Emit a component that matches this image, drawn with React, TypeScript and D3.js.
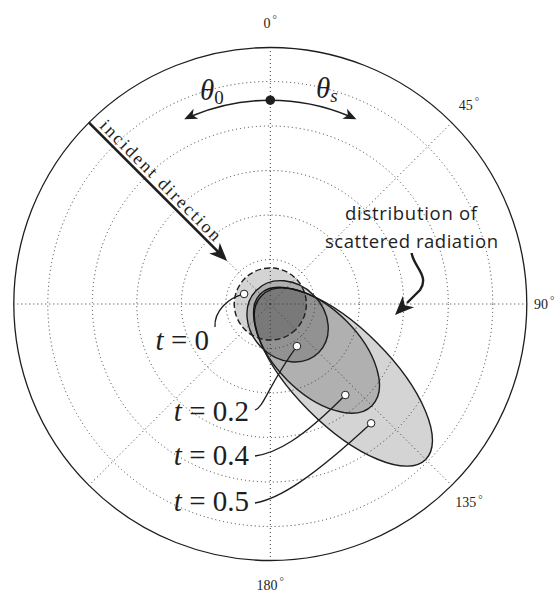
import React, { useEffect, useRef } from 'react';
import * as d3 from 'd3';

// values (radial unit = one grid ring)
const ringTicks = [1, 2, 3, 4, 5];
const rMax = 5.764;
const gridAngles = [0, 45, 90, 135, 180, 225, 270, 315];
const labelAngles = [0, 45, 90, 135, 180];

const tValues = [0.5, 0.4, 0.2, 0];
const shapeAxis = [135, 135, 135, 135];
const centreDist = [2.31, 1.48, 0.55, 0];
const semiMajor = [2.63, 1.75, 0.99, 0.81];
const semiMinor = [1.08, 0.94, 0.83, 0.81];
const dotAngle = [139.8, 140.5, 147.7, 291];
const dotRadius = [3.51, 2.65, 1.12, 0.63];

const incidentAngle = 315;
const incidentTip = 1.37;
const thetaArcRadius = 4.58;
const thetaArcSpan = 25;

const W = 558;
const H = 592;
const CX = 270.3;
const CY = 304;
const R = 256.5;
const INK = '#1e1e1e';

const serif = '"Liberation Serif", "DejaVu Serif", serif';
const sans = '"Open Sans", "Noto Sans", sans-serif';

// stealth-like arrow head, tip at (x, y), pointing along (dx, dy)
const head = (x, y, dx, dy, len, hw, svg) => {
  const n = Math.hypot(dx, dy);
  const ux = dx / n,
    uy = dy / n;
  const px = -uy,
    py = ux;
  const p = d3.path();
  p.moveTo(x, y);
  p.lineTo(x - len * ux + hw * px, y - len * uy + hw * py);
  p.lineTo(x - 0.72 * len * ux, y - 0.72 * len * uy);
  p.lineTo(x - len * ux - hw * px, y - len * uy - hw * py);
  p.closePath();
  svg.append('path').attr('d', p.toString()).attr('fill', INK);
};

const App = () => {
  const ref = useRef(null);

  useEffect(() => {
    if (!ref.current) return;
    const svg = d3.select(ref.current);
    svg.selectAll('*').remove();

    const r = d3.scaleLinear().domain([0, rMax]).range([0, R]);
    const rad = (a) => (a * Math.PI) / 180;
    const xy = (a, v) => [CX + r(v) * Math.sin(rad(a)), CY - r(v) * Math.cos(rad(a))];

    // scattered distributions
    tValues.forEach((t, i) => {
      const [ex, ey] = xy(shapeAxis[i], centreDist[i]);
      svg
        .append('ellipse')
        .attr('cx', ex)
        .attr('cy', ey)
        .attr('rx', r(semiMajor[i]))
        .attr('ry', r(semiMinor[i]))
        .attr('transform', `rotate(${shapeAxis[i] - 90},${ex},${ey})`)
        .attr('fill', 'black')
        .attr('fill-opacity', 0.17)
        .attr('stroke', INK)
        .attr('stroke-width', 1.4)
        .attr('stroke-dasharray', t === 0 ? '6,3' : null);
    });

    // grid
    const grid = svg.append('g').attr('fill', 'none').attr('stroke', '#3a3a3a').attr('stroke-width', 1).attr('stroke-dasharray', '1,3');
    ringTicks.forEach((v) => {
      grid.append('circle').attr('cx', CX).attr('cy', CY).attr('r', r(v));
    });
    gridAngles.forEach((a) => {
      const [x2, y2] = xy(a, rMax);
      grid.append('line').attr('x1', CX).attr('y1', CY).attr('x2', x2).attr('y2', y2);
    });
    svg.append('circle').attr('cx', CX).attr('cy', CY).attr('r', R).attr('fill', 'none').attr('stroke', INK).attr('stroke-width', 1.3);

    // angle labels (90 is pulled in a little so it stays on the page)
    labelAngles.forEach((a) => {
      const [x, y] = xy(a, r.invert(a === 90 ? 274 : 281));
      const txt = svg
        .append('text')
        .attr('x', x)
        .attr('y', y)
        .attr('text-anchor', 'middle')
        .attr('dominant-baseline', 'central')
        .attr('font-family', serif)
        .attr('font-size', 14)
        .attr('fill', INK)
        .text(String(a));
      txt.append('tspan').attr('dx', 2).attr('dy', -4).attr('font-size', 11).text('°');
    });

    // leader lines and markers
    const labelRight = [255, 255, 255, 215];
    const labelBase = [510.7, 465, 420.7, 350];
    const leaderStart = [
      [255, 503],
      [255, 456],
      [255, 410],
      [215, 327],
    ];
    const leaderCtrl = [
      [
        [279, 499],
        [312, 478],
      ],
      [
        [276, 453],
        [301, 440],
      ],
      [
        [264, 407],
        [268, 386],
      ],
      [
        [214, 311],
        [228, 298],
      ],
    ];
    tValues.forEach((t, i) => {
      const [dx, dy] = xy(dotAngle[i], dotRadius[i]);
      const p = d3.path();
      p.moveTo(leaderStart[i][0], leaderStart[i][1]);
      p.bezierCurveTo(leaderCtrl[i][0][0], leaderCtrl[i][0][1], leaderCtrl[i][1][0], leaderCtrl[i][1][1], dx, dy);
      svg.append('path').attr('d', p.toString()).attr('fill', 'none').attr('stroke', INK).attr('stroke-width', 1.3);
      svg.append('circle').attr('cx', dx).attr('cy', dy).attr('r', 3.8).attr('fill', 'white').attr('stroke', INK).attr('stroke-width', 1);

      const lab = svg
        .append('text')
        .attr('x', labelRight[i] - 6)
        .attr('y', labelBase[i])
        .attr('text-anchor', 'end')
        .attr('font-family', serif)
        .attr('font-size', 29)
        .attr('fill', INK);
      lab.append('tspan').attr('font-style', 'italic').text('t');
      lab.append('tspan').text(` = ${t}`);
    });

    // incident direction arrow
    const [ix0, iy0] = xy(incidentAngle, rMax);
    const [ix1, iy1] = xy(incidentAngle, incidentTip);
    const ux = (ix1 - ix0) / Math.hypot(ix1 - ix0, iy1 - iy0);
    const uy = (iy1 - iy0) / Math.hypot(ix1 - ix0, iy1 - iy0);
    svg
      .append('line')
      .attr('x1', ix0)
      .attr('y1', iy0)
      .attr('x2', ix1 - 12 * ux)
      .attr('y2', iy1 - 12 * uy)
      .attr('stroke', INK)
      .attr('stroke-width', 2.6);
    head(ix1, iy1, ux, uy, 18, 7.5, svg);
    const tx = ix0 + 10 * ux + 4 * uy;
    const ty = iy0 + 10 * uy - 4 * ux;
    svg
      .append('text')
      .attr('transform', `translate(${tx},${ty}) rotate(45)`)
      .attr('font-family', serif)
      .attr('font-size', 18)
      .attr('textLength', 163)
      .attr('fill', INK)
      .text('incident direction');

    // theta arc
    const arcR = r(thetaArcRadius);
    const ap = d3.path();
    ap.arc(CX, CY, arcR, rad(-90 - thetaArcSpan + 2.5), rad(-90 + thetaArcSpan - 2.5));
    svg.append('path').attr('d', ap.toString()).attr('fill', 'none').attr('stroke', INK).attr('stroke-width', 1.6);
    const [lx, ly] = xy(-thetaArcSpan, thetaArcRadius);
    const [rx, ry] = xy(thetaArcSpan, thetaArcRadius);
    head(lx, ly, -Math.cos(rad(thetaArcSpan)), Math.sin(rad(thetaArcSpan)), 13, 5.5, svg);
    head(rx, ry, Math.cos(rad(thetaArcSpan)), Math.sin(rad(thetaArcSpan)), 13, 5.5, svg);
    const [ox, oy] = xy(0, thetaArcRadius);
    svg.append('circle').attr('cx', ox).attr('cy', oy).attr('r', 4.8).attr('fill', INK);

    const th0 = svg.append('text').attr('x', 200).attr('y', 100).attr('font-family', serif).attr('font-size', 29).attr('fill', INK);
    th0.append('tspan').attr('font-style', 'italic').text('θ');
    th0.append('tspan').attr('font-size', 19).attr('dy', 4).text('0');
    const ths = svg.append('text').attr('x', 316).attr('y', 98).attr('font-family', serif).attr('font-size', 29).attr('fill', INK);
    ths.append('tspan').attr('font-style', 'italic').text('θ');
    ths.append('tspan').attr('font-style', 'italic').attr('font-size', 19).attr('dy', 4).text('s');

    // scattered radiation annotation
    svg
      .append('text')
      .attr('x', 411)
      .attr('y', 220)
      .attr('text-anchor', 'middle')
      .attr('font-family', sans)
      .attr('font-size', 18.5)
      .attr('textLength', 132)
      .attr('fill', INK)
      .text('distribution of');
    svg
      .append('text')
      .attr('x', 411.5)
      .attr('y', 248)
      .attr('text-anchor', 'middle')
      .attr('font-family', sans)
      .attr('font-size', 18.5)
      .attr('textLength', 173)
      .attr('fill', INK)
      .text('scattered radiation');
    const sq = d3.path();
    sq.moveTo(411.7, 253);
    sq.bezierCurveTo(413, 266, 430, 276, 420, 290);
    sq.lineTo(407, 303);
    svg.append('path').attr('d', sq.toString()).attr('fill', 'none').attr('stroke', INK).attr('stroke-width', 2.4);
    head(395, 315, -1, 1, 19, 8, svg);
  }, []);

  return <svg ref={ref} width={W} height={H} style={{ position: 'absolute', left: 0, top: 0, background: 'white' }} />;
};

export default App;
